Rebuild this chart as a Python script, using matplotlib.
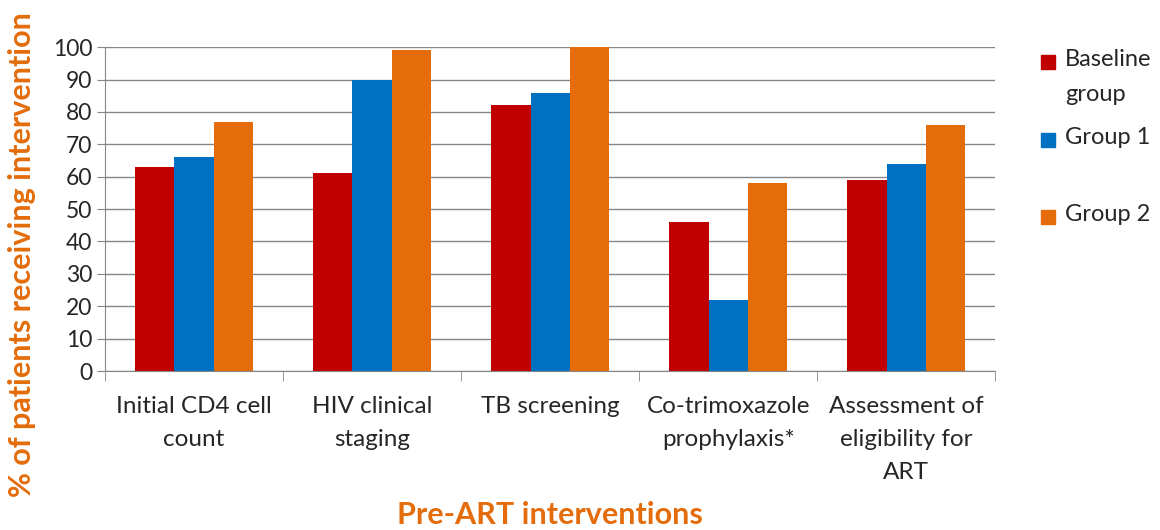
import numpy as np
from matplotlib import pyplot as plt
from matplotlib.patches import Rectangle

categories = ["Initial CD4 cell\ncount", "HIV clinical\nstaging", "TB screening",
              "Co-trimoxazole\nprophylaxis*", "Assessment of\neligibility for\nART"]
series_names = ["Baseline\ngroup", "Group 1", "Group 2"]
baseline = [63, 61, 82, 46, 59]
group1 = [66, 90, 86, 22, 64]
group2 = [77, 99, 100, 58, 76]
colors = ["#C00000", "#0070C0", "#E46C0A"]

plt.rcParams["font.family"] = ["Lato", "DejaVu Sans"]

fig = plt.figure(figsize=(11.6, 5.3), dpi=100)
ax = fig.add_axes([0.0905, 0.30, 0.7675, 0.611])

x = np.arange(len(categories))
w = 0.22
for i, (vals, col) in enumerate(zip([baseline, group1, group2], colors)):
    ax.bar(x + (i - 1) * w, vals, width=w, color=col, zorder=3)

ax.set_xlim(-0.5, len(categories) - 0.5)
ax.set_ylim(0, 100)
ax.set_yticks(range(0, 101, 10))
ax.tick_params(axis="y", labelsize=16.5, length=6, color="#868686", pad=3)
for lab in ax.get_yticklabels():
    lab.set_color("#262626")
ax.set_xticks(x)
ax.set_xticklabels(categories, fontsize=17.5, color="#262626", linespacing=1.72, va="top")
ax.tick_params(axis="x", length=0, pad=18)
ax.set_xticks(np.arange(-0.5, len(categories)), minor=True)
ax.tick_params(axis="x", which="minor", length=7, color="#868686")

ax.grid(axis="y", color="#868686", linewidth=1, zorder=0)
for s in ["top", "right"]:
    ax.spines[s].set_visible(False)
for s in ["left", "bottom"]:
    ax.spines[s].set_color("#868686")

ax.set_ylabel("% of patients receiving intervention", fontsize=22, fontweight="bold",
              color="#E46C0A")
ax.yaxis.set_label_coords(-0.077, 0.36)
fig.text(0.474, 0.002, "Pre-ART interventions", fontsize=22, fontweight="bold",
         color="#E46C0A", ha="center", va="bottom")

# legend
leg_y = [62, 140, 217]
for name, col, yy in zip(series_names, colors, leg_y):
    fig.add_artist(Rectangle((1041 / 1160, 1 - (yy + 7) / 530), 14 / 1160, 14 / 530,
                             transform=fig.transFigure, color=col))
    fig.text(1065 / 1160, 1 - (yy - 13) / 530, name, fontsize=17, color="#262626",
             ha="left", va="top", linespacing=1.85)

plt.savefig("out.png", dpi=100)
plt.close(fig)
